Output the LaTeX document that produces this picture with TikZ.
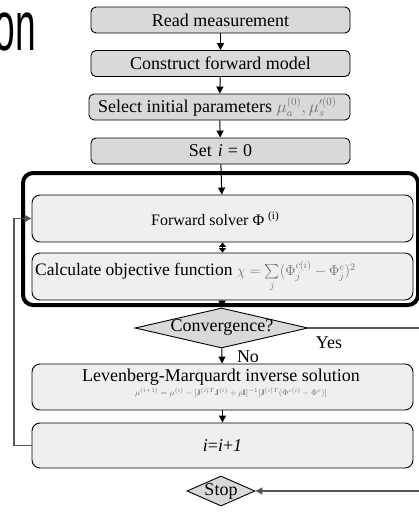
\documentclass[tikz,border=0pt]{standalone}
\usepackage{fontspec}
\setmainfont{Liberation Serif}
\newfontfamily\headfont{Liberation Sans}
\usepackage{amsmath}
\usetikzlibrary{shapes.geometric,arrows.meta}
\definecolor{boxgray}{HTML}{D9D9D9}
\definecolor{boxlight}{HTML}{EFEFEF}
\definecolor{linegray}{HTML}{555555}
\definecolor{formulagray}{HTML}{707070}
\newcommand{\fsz}[1]{\fontsize{#1}{#1}\selectfont}

\begin{document}
\begin{tikzpicture}[x=1pt,y=-1pt,
  topbox/.style={draw, line width=0.9pt, fill=boxgray, rounded corners=5pt,
    minimum width=259pt, minimum height=26pt, inner sep=0pt, font=\fsz{18}},
  stepbox/.style={draw, line width=0.9pt, fill=boxlight, rounded corners=8pt,
    minimum width=381pt, minimum height=46pt, inner sep=0pt, font=\fsz{18}},
  decision/.style={draw, line width=0.9pt, fill=boxgray, diamond, inner sep=0pt},
  flow/.style={-{Triangle[length=7pt,width=7pt]}, line width=1pt},
  loopline/.style={draw=linegray, line width=1.4pt},
  lbl/.style={inner sep=0pt, font=\fsz{18}}]

\clip (0,0) rectangle (419,512);

% heading fragment at the top left
\node[anchor=base east, inner sep=0pt] (head) at (36,50)
  {\scalebox{0.53}[1]{\headfont\fsz{70}on}};

% thick frame around the iteration body
\node[draw, line width=4pt, rounded corners=10pt, minimum width=395pt,
  minimum height=132pt, inner sep=0pt] (grp) at (220.5,239) {};

% initialisation steps
\node[topbox] (read) at (220.5,20) {Read measurement};
\node[topbox] (model) at (220.5,63.5) {Construct forward model};
\node[topbox, minimum width=261pt] (init) at (219.5,107) {};
\node[lbl, anchor=west] (inittxt) at (98,107)
  {Select initial parameters {\color{formulagray}\fsz{16}$\mu_a^{(0)}, \mu_s'^{(0)}$}};
\node[topbox] (seti) at (220.5,151)
  {Set\hspace{6pt}\textit{i}\hspace{5pt}=\hspace{5pt}0};

% iteration body
\node[stepbox, minimum height=47pt] (fwd) at (222.5,218.5) {};
\node[inner sep=0pt, font=\fsz{16}, anchor=west] (fwdtxt) at (151,219)
  {Forward solver Φ \textsuperscript{(i)}};
\node[stepbox, minimum height=47pt] (obj) at (222.5,276.5) {};
\node[lbl, anchor=west] (objtxt) at (35,276)
  {\fsz{17.5}Calculate objective function {\color{formulagray}\fsz{14}$\chi=\sum\limits_j(\Phi_j^{c(i)}-\Phi_j^{e})^2$}};

% convergence test
\node[decision, minimum width=173pt, minimum height=40pt] (conv) at (221.5,328) {};
\node[lbl] (convtxt) at (222,327) {Convergence?};
\node[lbl] (yes) at (329,343) {Yes};
\node[lbl] (no) at (248,357) {No};

% update step
\node[stepbox] (lm) at (222.5,387) {};
\node[lbl] (lmtxt) at (221,377) {Levenberg-Marquardt inverse solution};
\node[inner sep=0pt, font=\fsz{8.2}, text=formulagray] (lmeq) at (231,393)
  {$\mu^{(i+1)}=\mu^{(i)}-[\mathbf{J}^{(i)T}\mathbf{J}^{(i)}+\rho\mathbf{I}]^{-1}[\mathbf{J}^{(i)T}(\Phi^{c(i)}-\Phi^{e})]$};
\node[stepbox, minimum height=45pt] (inc) at (222.5,445.5) {\textit{i}=\textit{i}+\textit{1}};

% stop
\node[decision, minimum width=68pt, minimum height=30pt] (stop) at (221,491) {};
\node[lbl] (stoptxt) at (221,491) {Stop};

% connectors
\draw[flow] (read) -- (model);
\draw[flow] (model) -- (init);
\draw[flow] (init) -- (seti);
\draw[flow] (seti) -- (fwd);
\draw[{Triangle[length=4.5pt,width=7pt]}-{Triangle[length=4.5pt,width=7pt]}, line width=1pt]
  (fwd) -- (obj);
\draw[flow] (obj) -- (conv);
\draw[flow] (conv) -- (lm);
\draw[flow] (lm) -- (inc);
\draw[loopline, -{Triangle[length=7pt,width=7pt]}]
  (inc.west) -- (14,445.5) |- (fwd.west);
\draw[loopline, -{Triangle[length=7pt,width=7pt]}]
  (conv.east) -- (426,328) |- (stop.east);
\end{tikzpicture}
\end{document}
